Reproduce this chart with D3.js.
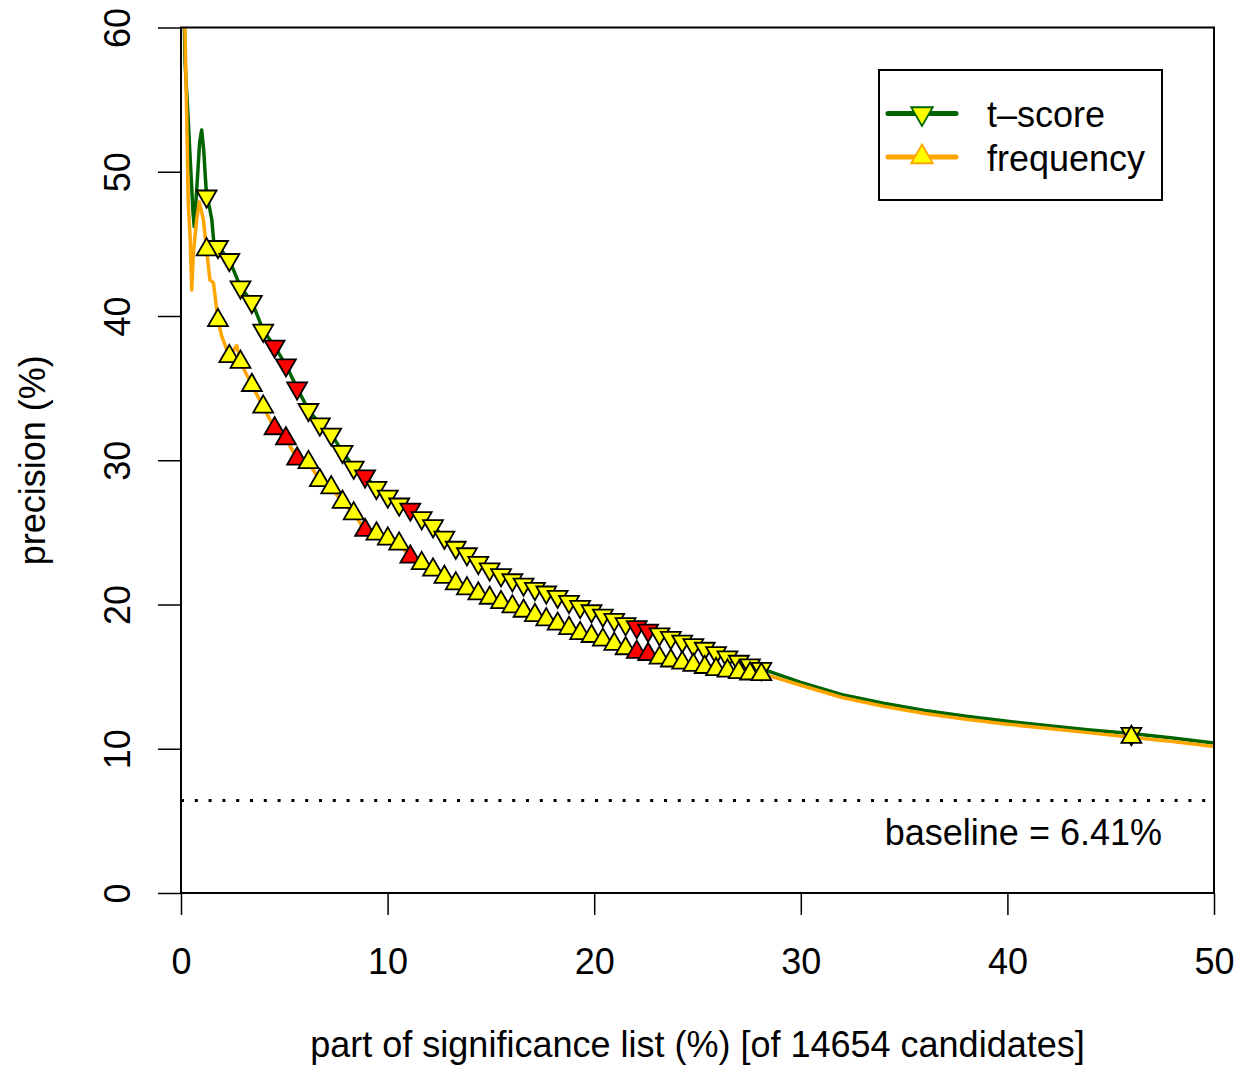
<!DOCTYPE html>
<html>
<head>
<meta charset="utf-8">
<script src="https://cdn.jsdelivr.net/npm/d3@7"></script>
<style>
  body { margin: 0; background: #fff; }
  text { font-family: "Liberation Sans", Arial, Helvetica, sans-serif; fill: #000; }
</style>
</head>
<body>
<div id="chart"></div>
<script>
'use strict';

// marker positions (% of list) shared by both measures
var markerX = [1.24, 1.79, 2.34, 2.88, 3.43, 3.98, 4.53, 5.08, 5.62, 6.17, 6.72, 7.27, 7.82, 8.36, 8.91,
  9.46, 10.01, 10.56, 11.10, 11.65, 12.20, 12.75, 13.30, 13.84, 14.39, 14.94, 15.49, 16.04, 16.58, 17.13,
  17.68, 18.23, 18.78, 19.32, 19.87, 20.42, 20.97, 21.52, 22.06, 22.61, 23.16, 23.71, 24.26, 24.80, 25.35,
  25.90, 26.45, 27.00, 27.54, 28.09, 46.0];
var tscoreMarkers = [48.3, 44.8, 43.9, 42.0, 41.0, 39.0, 37.9, 36.6, 35.0, 33.5, 32.5, 31.8, 30.6, 29.5, 28.9,
  28.1, 27.5, 26.95, 26.6, 26.0, 25.45, 24.65, 23.95, 23.5, 22.9, 22.45, 22.05, 21.7, 21.4, 21.1,
  20.85, 20.55, 20.2, 19.85, 19.55, 19.25, 18.95, 18.65, 18.45, 18.2, 17.95, 17.7, 17.45, 17.2, 16.95,
  16.65, 16.35, 16.05, 15.8, 15.55, 11.05];
var frequencyMarkers = [44.6, 39.7, 37.2, 36.8, 35.2, 33.7, 32.2, 31.5, 30.1, 29.85, 28.6, 28.1, 27.1, 26.3, 25.15,
  24.9, 24.55, 24.2, 23.3, 22.85, 22.4, 21.9, 21.45, 21.1, 20.75, 20.45, 20.15, 19.85, 19.55, 19.25,
  18.95, 18.65, 18.35, 18.0, 17.8, 17.55, 17.25, 16.95, 16.7, 16.55, 16.3, 16.1, 15.95, 15.8, 15.65,
  15.5, 15.4, 15.3, 15.2, 15.15, 10.8];
// indices of markers where the difference is significant (red)
var significantMarkers = [6, 7, 8, 14, 18, 38, 39];

// extra line points at the noisy start and the tail
var tscoreHeadX = [0.05, 0.2, 0.35, 0.47, 0.58, 0.64, 0.75, 0.9, 1.0, 1.1, 1.18, 1.37, 1.49, 1.6];
var tscoreHeadY = [68, 57.5, 53.6, 50.2, 47.2, 46.2, 48.5, 52.0, 52.9, 51.5, 49.6, 47.6, 46.7, 44.9];
var frequencyHeadX = [0.08, 0.19, 0.28, 0.35, 0.44, 0.52, 0.6, 0.76, 0.89, 1.08, 1.18, 1.4, 1.57, 1.7, 1.97, 2.7];
var frequencyHeadY = [66, 60, 53.6, 47.8, 45.5, 41.8, 44.4, 46.7, 47.9, 46.7, 45.4, 42.5, 42.3, 40.8, 38.6, 37.95];
var tailX = [28.5, 30, 32, 34, 36, 38, 40, 42, 44, 48, 50];
var tscoreTailY = [15.35, 14.6, 13.75, 13.15, 12.65, 12.25, 11.9, 11.6, 11.3, 10.75, 10.4];
var frequencyTailY = [15.05, 14.4, 13.55, 12.95, 12.45, 12.05, 11.7, 11.4, 11.1, 10.5, 10.15];

var xTicks = [0, 10, 20, 30, 40, 50];
var yTicks = [0, 10, 20, 30, 40, 50, 60];
var baselineValue = 6.41;
var candidates = 14654;

var w = 1238;
var h = 1066;
var plotLeft = 181;
var plotRight = 1214;
var plotTop = 27.5;
var plotBottom = 893;
var fontSize = 36;
var triRadius = 11.5;

var x = d3.scaleLinear().domain([0, 50]).range([plotLeft, plotRight]);
var y = d3.scaleLinear().domain([0, 60]).range([plotBottom, plotTop]);

function triPath(r, down) {
  var half = r / 2;
  var hw = r * Math.sqrt(3) / 2;
  if (down) {
    return "M" + (-hw) + "," + (-half) + "L" + hw + "," + (-half) + "L0," + r + "Z";
  }
  return "M0," + (-r) + "L" + hw + "," + half + "L" + (-hw) + "," + half + "Z";
}

function buildLine(headX, headY, markers, tailY) {
  var pts = [];
  headX.forEach(function (d, i) { pts.push([d, headY[i]]); });
  markerX.forEach(function (d, i) { pts.push([d, markers[i]]); });
  tailX.forEach(function (d, i) { pts.push([d, tailY[i]]); });
  pts.sort(function (a, b) { return a[0] - b[0]; });
  return pts;
}

var svg = d3.select("#chart").append("svg")
  .attr("width", w)
  .attr("height", h);

svg.append("rect")
  .attr("width", w)
  .attr("height", h)
  .attr("fill", "#fff");

svg.append("clipPath")
  .attr("id", "plotClip")
  .append("rect")
  .attr("x", plotLeft)
  .attr("y", plotTop)
  .attr("width", plotRight - plotLeft)
  .attr("height", plotBottom - plotTop);

// baseline
svg.append("line")
  .attr("x1", plotLeft)
  .attr("x2", plotRight)
  .attr("y1", y(baselineValue))
  .attr("y2", y(baselineValue))
  .attr("stroke", "#000")
  .attr("stroke-width", 3)
  .attr("stroke-dasharray", "3,10.8");

svg.append("text")
  .attr("x", 1162)
  .attr("y", 845)
  .attr("text-anchor", "end")
  .attr("font-size", fontSize)
  .text("baseline = " + baselineValue + "%");

var line = d3.line()
  .x(function (d) { return x(d[0]); })
  .y(function (d) { return y(d[1]); });

var series = [
  {name: "t\u2013score", color: "#006400", down: true, head: [tscoreHeadX, tscoreHeadY], markers: tscoreMarkers, tail: tscoreTailY},
  {name: "frequency", color: "#ffa500", down: false, head: [frequencyHeadX, frequencyHeadY], markers: frequencyMarkers, tail: frequencyTailY}
];

var plot = svg.append("g").attr("clip-path", "url(#plotClip)");

series.forEach(function (s) {
  plot.append("path")
    .datum(buildLine(s.head[0], s.head[1], s.markers, s.tail))
    .attr("fill", "none")
    .attr("stroke", s.color)
    .attr("stroke-width", 3.5)
    .attr("stroke-linejoin", "round")
    .attr("d", line);
});

series.forEach(function (s) {
  svg.append("g").selectAll("path")
    .data(markerX)
    .enter()
    .append("path")
    .attr("transform", function (d, i) {
      return "translate(" + x(d) + "," + y(s.markers[i]) + ")";
    })
    .attr("d", triPath(triRadius, s.down))
    .attr("fill", function (d, i) {
      return significantMarkers.indexOf(i) >= 0 ? "#ff0000" : "#ffff00";
    })
    .attr("stroke", "#000")
    .attr("stroke-width", 1.8)
    .attr("stroke-linejoin", "miter");
});

// frame
svg.append("rect")
  .attr("x", plotLeft)
  .attr("y", plotTop)
  .attr("width", plotRight - plotLeft)
  .attr("height", plotBottom - plotTop)
  .attr("fill", "none")
  .attr("stroke", "#000")
  .attr("stroke-width", 2);

// axes
var xAxis = svg.append("g")
  .attr("transform", "translate(0," + plotBottom + ")")
  .call(d3.axisBottom(x).tickValues(xTicks).tickSize(22).tickPadding(33));
xAxis.select(".domain").remove();
xAxis.selectAll("line").attr("stroke", "#000").attr("stroke-width", 1.5);
xAxis.selectAll("text")
  .attr("font-size", fontSize)
  .attr("font-family", null);

var yAxis = svg.append("g")
  .attr("transform", "translate(" + plotLeft + ",0)")
  .call(d3.axisLeft(y).tickValues(yTicks).tickSize(23));
yAxis.select(".domain").remove();
yAxis.selectAll("line").attr("stroke", "#000").attr("stroke-width", 1.5);
yAxis.selectAll("text")
  .attr("font-size", fontSize)
  .attr("font-family", null)
  .attr("text-anchor", "middle")
  .attr("transform", "rotate(-90)")
  .attr("x", 0)
  .attr("y", -51)
  .attr("dy", 0);

svg.append("text")
  .attr("x", (plotLeft + plotRight) / 2)
  .attr("y", 1057)
  .attr("text-anchor", "middle")
  .attr("font-size", fontSize)
  .text("part of significance list (%) [of " + candidates + " candidates]");

svg.append("text")
  .attr("transform", "translate(45," + (plotTop + plotBottom) / 2 + ") rotate(-90)")
  .attr("text-anchor", "middle")
  .attr("font-size", fontSize)
  .text("precision (%)");

// legend
var legend = svg.append("g");
legend.append("rect")
  .attr("x", 879)
  .attr("y", 70)
  .attr("width", 283)
  .attr("height", 130)
  .attr("fill", "#fff")
  .attr("stroke", "#000")
  .attr("stroke-width", 2);

var legendRows = [113.5, 157];
series.forEach(function (s, i) {
  var ly = legendRows[i];
  legend.append("line")
    .attr("x1", 888)
    .attr("x2", 956)
    .attr("y1", ly)
    .attr("y2", ly)
    .attr("stroke", s.color)
    .attr("stroke-width", 5)
    .attr("stroke-linecap", "round");
  legend.append("path")
    .attr("transform", "translate(922," + ly + ")")
    .attr("d", triPath(12.5, s.down))
    .attr("fill", "#ffff00")
    .attr("stroke", s.color)
    .attr("stroke-width", 1.8);
  legend.append("text")
    .attr("x", 987)
    .attr("y", ly + 13.5)
    .attr("font-size", fontSize)
    .text(s.name);
});
</script>
</body>
</html>
